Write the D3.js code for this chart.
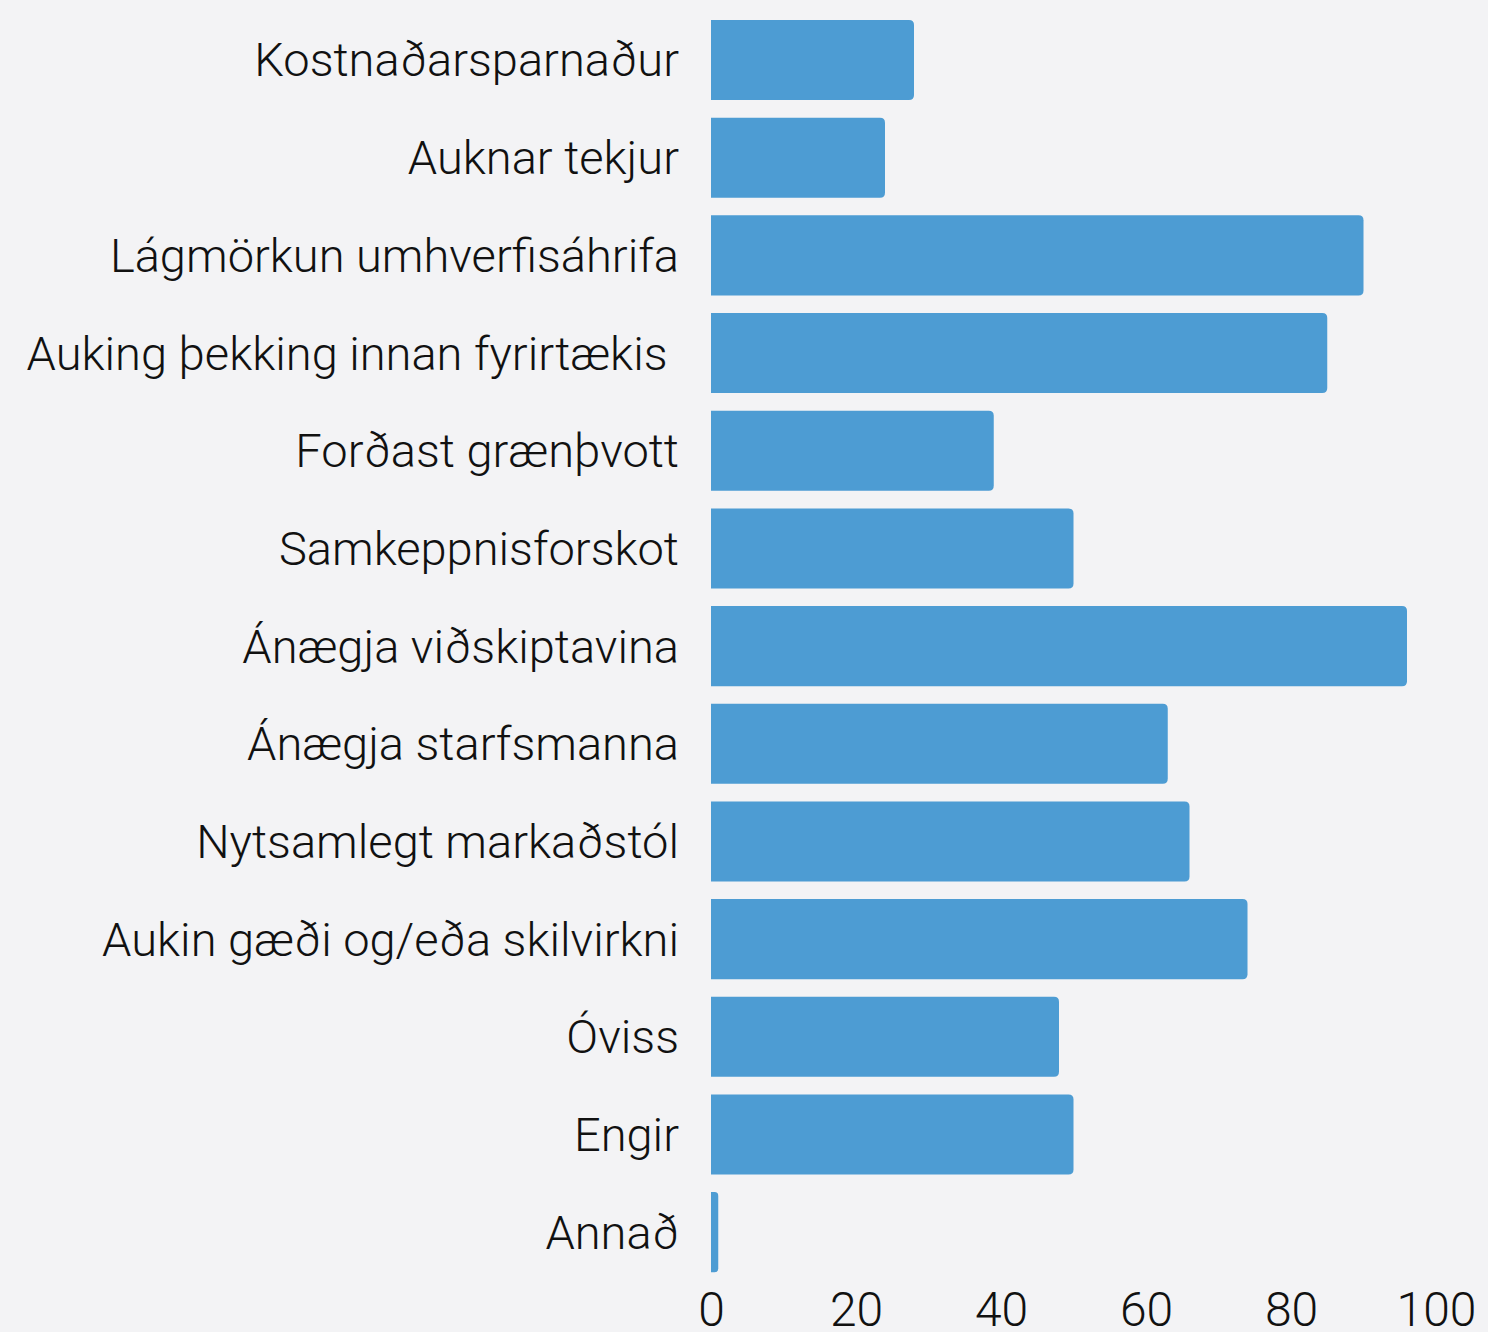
<!DOCTYPE html>
<html>
<head>
<meta charset="utf-8">
<script src="https://cdn.jsdelivr.net/npm/d3@7"></script>
<style>
html,body{margin:0;padding:0;background:#f3f3f5;}
svg{display:block;}
text{font-family:Roboto, "Noto Sans", sans-serif;font-weight:300;fill:#111;}
</style>
</head>
<body>
<svg id="chart" width="1488" height="1332"></svg>
<script>
const categories = ["Kostnaðarsparnaður","Auknar tekjur","Lágmörkun umhverfisáhrifa","Auking þekking innan fyrirtækis ","Forðast grænþvott","Samkeppnisforskot","Ánægja viðskiptavina","Ánægja starfsmanna","Nytsamlegt markaðstól","Aukin gæði og/eða skilvirkni","Óviss","Engir","Annað"];
const values = [28,24,90,85,39,50,96,63,66,74,48,50,1];
const xTicks = [0,20,40,60,80,100];

const svg = d3.select("#chart");
const x = d3.scaleLinear().domain([0,100]).range([711,1436]);
const y = d3.scaleBand().domain(categories).range([11.2,1281]).paddingInner(0.18).paddingOuter(0.09);

const r = 5;
svg.append("g").selectAll("path").data(categories).join("path")
  .attr("fill","#4d9cd3")
  .attr("d",(d,i)=>{
    const x0=x(0), x1=x(values[i]), y0=y(d), h=y.bandwidth();
    const rr=Math.min(r,(x1-x0)/2);
    return `M${x0},${y0}H${x1-rr}Q${x1},${y0} ${x1},${y0+rr}V${y0+h-rr}Q${x1},${y0+h} ${x1-rr},${y0+h}H${x0}Z`;
  });

const yAxis = svg.append("g").attr("transform",`translate(${x(0)},0)`)
  .call(d3.axisLeft(y).tickSize(0).tickPadding(32));
yAxis.select(".domain").remove();
yAxis.selectAll("text").style("font-size","47px").style("font-family","Roboto, sans-serif").style("font-weight","300")
  .style("white-space","pre").attr("fill","#111").attr("dy","0.35em");

const xAxis = svg.append("g").attr("transform",`translate(0,1281)`)
  .call(d3.axisBottom(x).tickValues(xTicks).tickSize(0).tickPadding(11));
xAxis.select(".domain").remove();
xAxis.selectAll("text").style("font-size","48px").style("font-family","Roboto, sans-serif").style("font-weight","300").attr("fill","#111");
</script>
</body>
</html>
